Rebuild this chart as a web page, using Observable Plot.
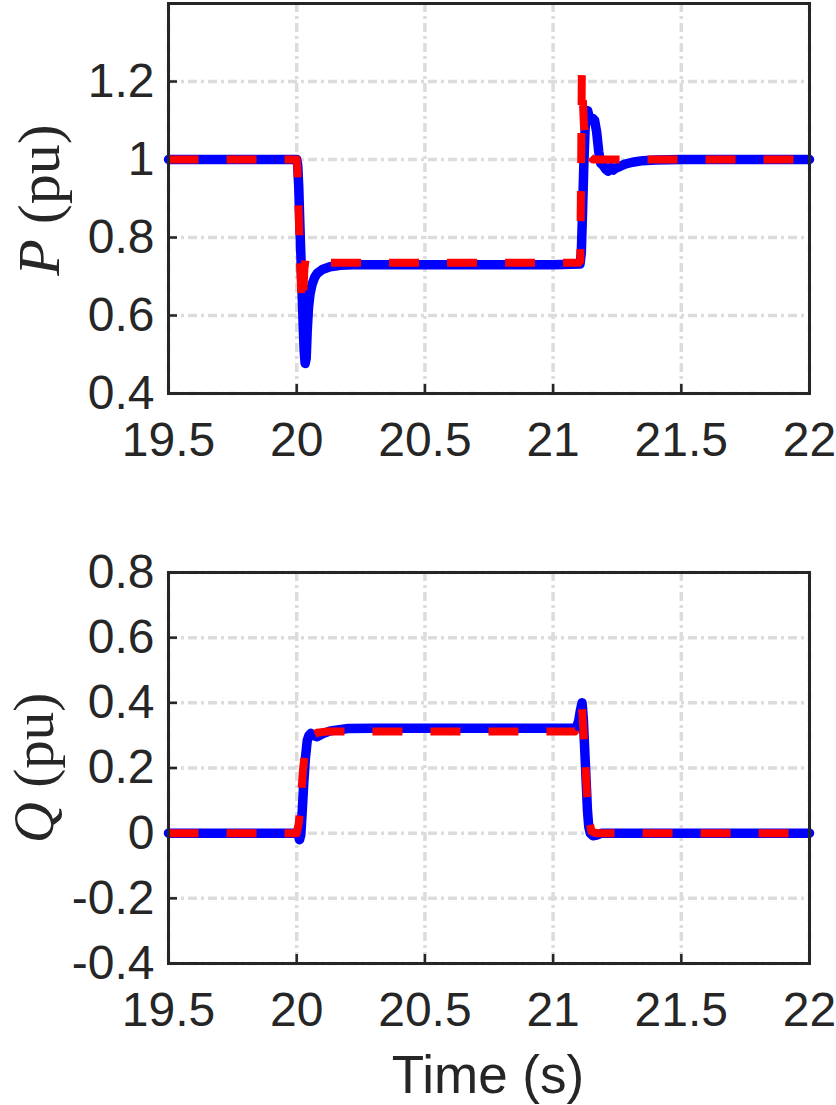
<!DOCTYPE html>
<html>
<head>
<meta charset="utf-8">
<script src="https://cdn.jsdelivr.net/npm/d3@7"></script>
<script src="https://cdn.jsdelivr.net/npm/@observablehq/plot@0.6"></script>
<style>
  html, body { margin: 0; padding: 0; background: #fff; }
  #root { position: relative; width: 836px; height: 1105px; overflow: hidden; }
  #root svg { position: absolute; left: 0; }
</style>
</head>
<body>
<div id="root"></div>
<script>
// ---------- data ----------
const xTicks = [19.5, 20, 20.5, 21, 21.5, 22];
const xTickLabels = ["19.5", "20", "20.5", "21", "21.5", "22"];
const pTicks = [0.4, 0.6, 0.8, 1, 1.2];
const pTickLabels = ["0.4", "0.6", "0.8", "1", "1.2"];
const qTicks = [-0.4, -0.2, 0, 0.2, 0.4, 0.6, 0.8];
const qTickLabels = ["-0.4", "-0.2", "0", "0.2", "0.4", "0.6", "0.8"];

// P, blue solid
const tPBlue = [19.5, 20.0, 20.004, 20.008, 20.012, 20.016, 20.021, 20.025, 20.029, 20.033, 20.037, 20.041, 20.046, 20.052, 20.06, 20.07, 20.08, 20.1, 20.13, 20.17, 20.22, 20.3, 21.0, 21.105, 21.11, 21.115, 21.12, 21.125, 21.13, 21.135, 21.14, 21.148, 21.155, 21.162, 21.17, 21.178, 21.186, 21.195, 21.205, 21.215, 21.225, 21.235, 21.245, 21.26, 21.28, 21.31, 21.35, 21.4, 21.5, 22];
const pBlue = [1.0, 1.0, 0.985, 0.93, 0.84, 0.76, 0.66, 0.58, 0.51, 0.477, 0.49, 0.56, 0.62, 0.655, 0.68, 0.698, 0.708, 0.718, 0.725, 0.729, 0.73, 0.73, 0.73, 0.732, 0.76, 0.87, 0.99, 1.08, 1.12, 1.125, 1.11, 1.10, 1.105, 1.10, 1.07, 1.02, 0.99, 0.985, 0.975, 0.97, 0.98, 0.973, 0.978, 0.982, 0.988, 0.993, 0.997, 0.999, 1.0, 1.0];
// P, red dashed
const tPRed = [19.5, 20.0, 20.003, 20.008, 20.013, 20.018, 20.022, 20.026, 20.03, 20.035, 20.045, 20.06, 21.1, 21.106, 21.109, 21.112, 21.115, 21.12, 21.13, 21.14, 21.155, 21.17, 22];
const pRed = [1.0, 1.0, 0.97, 0.86, 0.74, 0.65, 0.625, 0.66, 0.72, 0.745, 0.74, 0.735, 0.735, 0.74, 0.95, 1.22, 1.17, 1.09, 1.04, 1.01, 1.0, 1.0, 1.0];
// Q, blue solid
const tQBlue = [19.5, 20.0, 20.006, 20.011, 20.016, 20.021, 20.028, 20.034, 20.041, 20.048, 20.055, 20.065, 20.08, 20.1, 20.132, 20.2, 20.3, 21.09, 21.1, 21.106, 21.113, 21.118, 21.122, 21.126, 21.13, 21.134, 21.139, 21.145, 21.155, 21.17, 21.19, 22];
const qBlue = [0, 0, -0.005, -0.02, -0.005, 0.06, 0.16, 0.23, 0.284, 0.3, 0.306, 0.3, 0.296, 0.305, 0.314, 0.321, 0.322, 0.322, 0.345, 0.375, 0.40, 0.35, 0.28, 0.21, 0.14, 0.07, 0.02, 0.0, -0.008, -0.006, 0, 0];
// Q, red dashed
const tQRed = [19.5, 20.0, 20.008, 20.016, 20.024, 20.032, 20.042, 20.055, 20.08, 20.12, 21.085, 21.1, 21.112, 21.118, 21.125, 21.132, 21.14, 21.15, 21.17, 22];
const qRed = [0, 0, 0.03, 0.1, 0.19, 0.25, 0.285, 0.3, 0.308, 0.312, 0.312, 0.35, 0.39, 0.32, 0.22, 0.12, 0.04, 0.005, 0, 0];

// ---------- drawing ----------
const W = 836;
const ink = "#262626";
const gridStyle = {stroke: "#dcdcdc", strokeOpacity: 1, strokeWidth: 3.5, strokeDasharray: "9,4,3,4"};

function panel({yDomain, yTicks, yTickLabels, tB, vB, tR, vR, height, marginTop, marginBottom}) {
  const ml = 168, mr = 27;
  const innerW = W - ml - mr;
  const innerH = height - marginTop - marginBottom;
  const blue = tB.map((t, i) => ({t, v: vB[i]}));
  const red = tR.map((t, i) => ({t, v: vR[i]}));
  return Plot.plot({
    width: W,
    height,
    marginLeft: ml,
    marginRight: mr,
    marginTop,
    marginBottom,
    style: {fontFamily: "'Liberation Sans', Arial, sans-serif", fontSize: "48px", color: ink, background: "transparent", overflow: "visible"},
    x: {domain: [19.5, 22], label: null},
    y: {domain: yDomain, label: null},
    marks: [
      Plot.gridX(xTicks, {...gridStyle}),
      Plot.gridY(yTicks, {...gridStyle}),
      Plot.tickY(yTicks, {y: d => d, stroke: ink, strokeWidth: 2.5, insetRight: innerW - 9}),
      Plot.tickX(xTicks, {x: d => d, stroke: ink, strokeWidth: 2.5, insetTop: innerH - 9}),
      Plot.line(blue, {x: "t", y: "v", stroke: "#0000ff", strokeWidth: 9.5, strokeLinejoin: "round", strokeLinecap: "round", curve: "linear"}),
      Plot.line(red, {x: "t", y: "v", stroke: "#ff0000", strokeWidth: 8, strokeDasharray: "30,28", strokeLinejoin: "round", strokeLinecap: "butt", curve: "linear"}),
      Plot.frame({stroke: ink, strokeWidth: 3}),
      Plot.axisX(xTicks, {tickSize: 0, tickPadding: 28, fontSize: 48, fill: ink, tickFormat: d => xTickLabels[xTicks.indexOf(d)], label: null}),
      Plot.axisY(yTicks, {tickSize: 0, tickPadding: 14, fontSize: 48, fill: ink, tickFormat: d => yTickLabels[yTicks.indexOf(d)], label: null})
    ]
  });
}

const root = document.getElementById("root");

const top1 = panel({yDomain: [0.4, 1.4], yTicks: pTicks, yTickLabels: pTickLabels, tB: tPBlue, vB: pBlue, tR: tPRed, vR: pRed, height: 470, marginTop: 3, marginBottom: 77});
top1.style.top = "0px";
root.appendChild(top1);

const bot = panel({yDomain: [-0.4, 0.8], yTicks: qTicks, yTickLabels: qTickLabels, tB: tQBlue, vB: qBlue, tR: tQRed, vR: qRed, height: 500, marginTop: 32, marginBottom: 77});
bot.style.top = "540px";
root.appendChild(bot);

// axis titles
const ns = "http://www.w3.org/2000/svg";
const lab = document.createElementNS(ns, "svg");
lab.setAttribute("width", W);
lab.setAttribute("height", 1105);
lab.style.top = "0px";
lab.style.pointerEvents = "none";
function addText(x, y, rot, family, size, parts) {
  const t = document.createElementNS(ns, "text");
  t.setAttribute("transform", `translate(${x},${y}) rotate(${rot})`);
  t.setAttribute("text-anchor", "middle");
  t.setAttribute("font-family", family);
  t.setAttribute("font-size", size);
  t.setAttribute("fill", ink);
  for (const [s, italic] of parts) {
    const sp = document.createElementNS(ns, "tspan");
    if (italic) sp.setAttribute("font-style", "italic");
    sp.textContent = s;
    t.appendChild(sp);
  }
  lab.appendChild(t);
}
addText(59, 200, -90, "'Liberation Serif', 'Times New Roman', serif", 60, [["P", true], [" (pu)", false]]);
addText(53, 768, -90, "'Liberation Serif', 'Times New Roman', serif", 57, [["Q", true], [" (pu)", false]]);
addText(488, 1093, 0, "'Liberation Sans', Arial, sans-serif", 53, [["Time (s)", false]]);
root.appendChild(lab);
</script>
</body>
</html>
